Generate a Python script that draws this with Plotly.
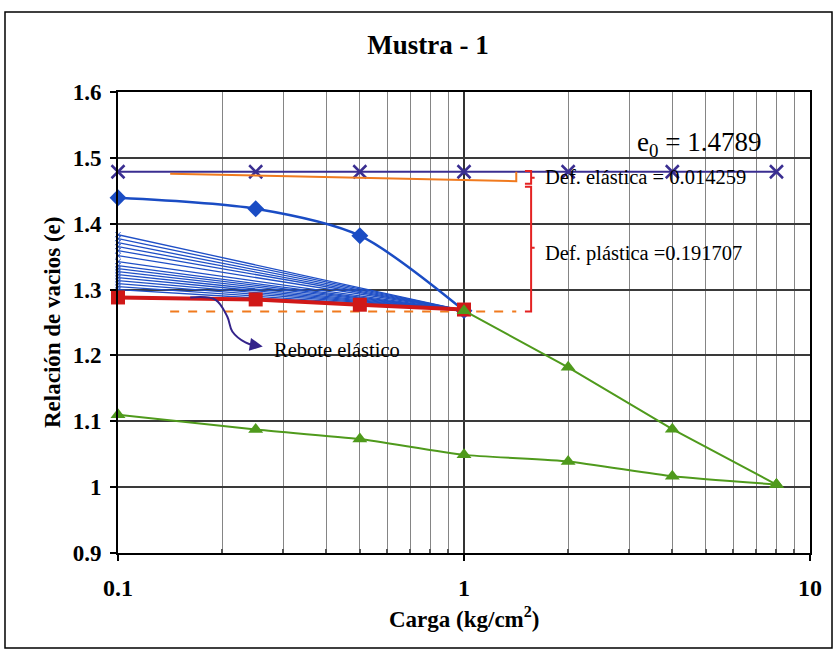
import numpy as np
import plotly.graph_objects as go

# ---------------- data ----------------
e0 = 1.4789
def_elastica = 0.014259
def_plastica = 0.191707

x_e0 = [0.1, 0.25, 0.5, 1, 2, 4, 8]
y_e0 = [e0] * len(x_e0)

x_carga = [0.1, 0.25, 0.5, 1]
y_carga = [1.4394, 1.4227, 1.3818, 1.268]

# thin rebound lines (start e at 0.1 -> converge at 1)
y_rebote_inicio = [1.3833, 1.3773, 1.3712, 1.3652, 1.3591, 1.3515, 1.3424, 1.3364,
                   1.3318, 1.3273, 1.3227, 1.3182, 1.3136, 1.3091, 1.3045, 1.3000]
x_rebote = [0.1, 1]
e_convergencia = 1.268

x_rojo = [0.1, 0.25, 0.5, 1]
y_rojo = [1.288, 1.285, 1.277, 1.2697]

x_verde_carga = [1, 2, 4, 8]
y_verde_carga = [1.268, 1.182, 1.088, 1.004]
x_verde_descarga = [8, 4, 2, 1, 0.5, 0.25, 0.1]
y_verde_descarga = [1.004, 1.0165, 1.039, 1.049, 1.073, 1.0875, 1.11]

# guide lines
x_naranja = [0.1415, 1.416, 1.416]
y_naranja = [1.4758, e0 - def_elastica, e0]
x_naranja_dash = [0.1415, 1.416]
e_final = 1.2667
y_naranja_dash = [e_final, e_final]

x_llave = [1.50, 1.563, 1.563, 1.60, 1.563, 1.563, 1.50]
llave_el = [1.4800, 1.4800, 1.4697, 1.4697, 1.4697, 1.4606, 1.4606]
llave_pl = [1.4560, 1.4560, 1.3636, 1.3636, 1.3636, e_final, e_final]

x_flecha = [0.1617, 0.191, 0.2069, 0.214, 0.2335, 0.2546]
y_flecha = [1.2879, 1.2848, 1.2591, 1.2364, 1.2197, 1.2136]

x_ticks = [0.1, 1, 10]
x_ticktext = ["0.1", "1", "10"]
x_minor = [0.2, 0.3, 0.4, 0.5, 0.6, 0.7, 0.8, 0.9, 2, 3, 4, 5, 6, 7, 8, 9]

FONT = "Times New Roman, Liberation Serif, Tinos, DejaVu Serif, serif"

fig = go.Figure()

# e0 line
fig.add_trace(go.Scatter(x=x_e0, y=y_e0, mode="lines+markers", cliponaxis=False,
                         line=dict(color="#3a2e91", width=2),
                         marker=dict(symbol="x-thin", size=13, line=dict(color="#3a2e91", width=2.5))))
# orange guide
fig.add_trace(go.Scatter(x=x_naranja, y=y_naranja, mode="lines",
                         line=dict(color="#f07a1e", width=2)))
# brackets
fig.add_trace(go.Scatter(x=x_llave, y=llave_el, mode="lines",
                         line=dict(color="#e42222", width=2)))
fig.add_trace(go.Scatter(x=x_llave, y=llave_pl, mode="lines",
                         line=dict(color="#e42222", width=2)))
# thin rebound lines
for y0 in y_rebote_inicio:
    fig.add_trace(go.Scatter(x=x_rebote, y=[y0, e_convergencia], mode="lines+markers", cliponaxis=False,
                             line=dict(color="#1f4fc6", width=1.3),
                             marker=dict(symbol="x-thin", size=5, line=dict(color="#1f4fc6", width=1))))
# loading curve
fig.add_trace(go.Scatter(x=x_carga, y=y_carga, mode="lines+markers", cliponaxis=False,
                         line=dict(color="#1a4cc4", width=2.5, shape="spline", smoothing=0.8),
                         marker=dict(symbol="diamond", size=13, color="#1a4cc4")))
# orange dashed
fig.add_trace(go.Scatter(x=x_naranja_dash, y=y_naranja_dash, mode="lines",
                         line=dict(color="#f07a1e", width=2, dash="dash")))
# red
fig.add_trace(go.Scatter(x=x_rojo, y=y_rojo, mode="lines+markers", cliponaxis=False,
                         line=dict(color="#d01818", width=4),
                         marker=dict(symbol="square", size=14, color="#d01818")))
# green
fig.add_trace(go.Scatter(x=x_verde_carga, y=y_verde_carga, mode="lines+markers", cliponaxis=False,
                         line=dict(color="#4f9a1c", width=2),
                         marker=dict(symbol="triangle-up", size=13, color="#4f9a1c")))
fig.add_trace(go.Scatter(x=x_verde_descarga, y=y_verde_descarga, mode="lines+markers", cliponaxis=False,
                         line=dict(color="#4f9a1c", width=2, shape="spline", smoothing=0.5),
                         marker=dict(symbol="triangle-up", size=13, color="#4f9a1c")))
# rebound arrow
fig.add_trace(go.Scatter(x=x_flecha, y=y_flecha, mode="lines",
                         line=dict(color="#34238a", width=2, shape="spline", smoothing=1.0)))

text_font = dict(family=FONT, size=20.5, color="black")
annotations = [
    dict(x=np.log10(0.262), y=1.2136, xref="x", yref="y", ax=-12, ay=-2, text="",
         showarrow=True, arrowhead=2, arrowsize=1.3, arrowwidth=2, arrowcolor="#34238a"),
    dict(x=0.2225, y=0.4403, xref="paper", yref="paper", xanchor="left", yanchor="middle",
         text="Rebote elástico", showarrow=False, font=text_font),
    dict(x=0.614, y=0.8156, xref="paper", yref="paper", xanchor="left", yanchor="middle",
         text="Def. elástica = 0.014259", showarrow=False, font=text_font),
    dict(x=0.614, y=0.6486, xref="paper", yref="paper", xanchor="left", yanchor="middle",
         text="Def. plástica =0.191707", showarrow=False, font=text_font),
    dict(x=0.747, y=0.888, xref="paper", yref="paper", xanchor="left", yanchor="middle",
         text="e<sub>0</sub> = 1.4789", showarrow=False,
         font=dict(family=FONT, size=27, color="black")),
    dict(x=-0.0954, y=0.501, xref="paper", yref="paper", xanchor="center", yanchor="middle",
         text="Relación de vacios (e)", textangle=-90, showarrow=False,
         font=dict(family=FONT, size=23, color="black", weight="bold")),
    dict(x=0.5, y=-0.139, xref="paper", yref="paper", xanchor="center", yanchor="middle",
         text="Carga (kg/cm<sup>2</sup>)", showarrow=False,
         font=dict(family=FONT, size=23, color="black", weight="bold")),
]

fig.update_layout(
    width=836, height=654,
    margin=dict(l=118, r=26, t=92, b=101),
    paper_bgcolor="white", plot_bgcolor="white",
    showlegend=False,
    font=dict(family=FONT),
    title=dict(text="Mustra - 1", x=428 / 836, xanchor="center", y=1 - 45 / 654, yanchor="middle",
               font=dict(family=FONT, size=27, color="black", weight="bold")),
    annotations=annotations,
    shapes=[dict(type="rect", xref="paper", yref="paper", x0=-0.1633, x1=1.0318,
                 y0=-0.2061, y1=1.1735, line=dict(color="black", width=1.5), layer="below")],
)

fig.update_xaxes(type="log", range=[-1, 1], tickvals=x_ticks, ticktext=x_ticktext,
                 showgrid=True, gridcolor="#333333", gridwidth=2,
                 showline=True, linecolor="black", linewidth=2, mirror=True,
                 ticks="outside", ticklen=6, tickcolor="black", tickwidth=1.5,
                 ticklabelstandoff=6,
                 tickfont=dict(family=FONT, size=24, color="black", weight="bold"),
                 minor=dict(tickvals=x_minor, showgrid=True, gridcolor="#858585", gridwidth=1.2,
                            ticks="inside", ticklen=4, tickcolor="#555555"),
                 zeroline=False)
fig.update_yaxes(range=[0.9, 1.6], dtick=0.1, tick0=0.9,
                 showgrid=True, gridcolor="#3a3a3a", gridwidth=2,
                 showline=True, linecolor="black", linewidth=2, mirror=True,
                 ticks="outside", ticklen=6, tickcolor="black", tickwidth=1.5,
                 ticklabelstandoff=4,
                 tickfont=dict(family=FONT, size=23, color="black", weight="bold"),
                 zeroline=False)

fig.write_html("out.html")
